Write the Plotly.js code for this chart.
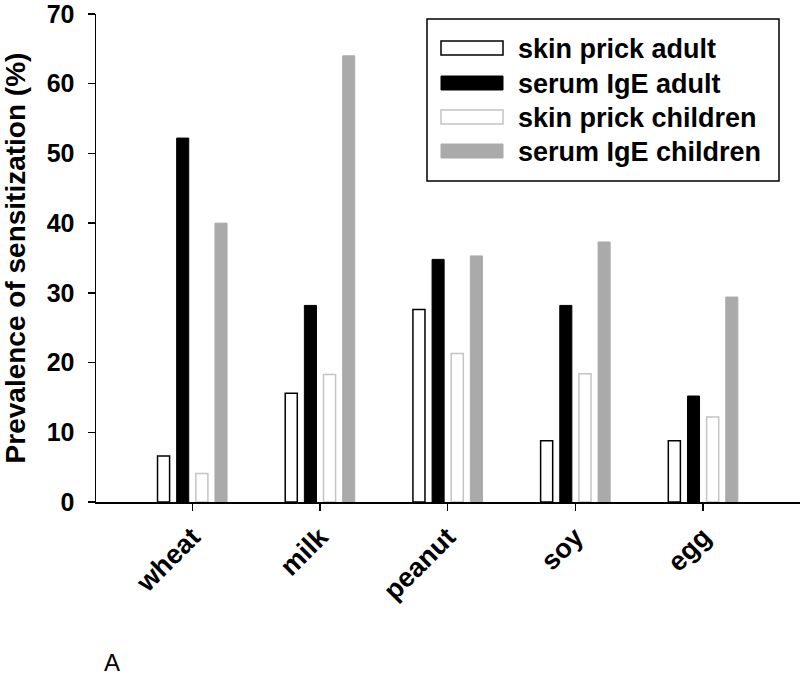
<!DOCTYPE html>
<html>
<head>
<meta charset="utf-8">
<script src="https://cdn.plot.ly/plotly-3.0.1.min.js"></script>
<style>html,body{margin:0;padding:0;background:#fff;}#chart{width:800px;height:678px;}</style>
</head>
<body>
<div id="chart"></div>
<script>
// ---- data ----
const categories = ['wheat', 'milk', 'peanut', 'soy', 'egg'];
const seriesNames = ['skin prick adult', 'serum IgE adult', 'skin prick children', 'serum IgE children'];
const skinPrickAdult = [6.6, 15.6, 27.6, 8.8, 8.8];
const serumIgEAdult = [52.2, 28.2, 34.8, 28.2, 15.2];
const skinPrickChildren = [4.1, 18.3, 21.3, 18.4, 12.2];
const serumIgEChildren = [40.0, 64.0, 35.3, 37.3, 29.4];
const yTickValues = [0, 10, 20, 30, 40, 50, 60, 70];

// ---- styles ----
const W = 800, H = 678;
const M = {l: 96, r: 0, t: 14, b: 176};
const FONT = '"Liberation Sans", Arial, Helvetica, sans-serif';
const styles = [
  {fill: '#ffffff', line: '#000000', lw: 1.5},
  {fill: '#000000', line: '#000000', lw: 1},
  {fill: '#ffffff', line: '#c4c4c4', lw: 1.5},
  {fill: '#aaaaaa', line: '#aaaaaa', lw: 1}
];
const seriesValues = [skinPrickAdult, serumIgEAdult, skinPrickChildren, serumIgEChildren];

const traces = seriesValues.map((vals, i) => ({
  type: 'bar',
  name: seriesNames[i],
  x: categories,
  y: vals,
  marker: {color: styles[i].fill, line: {color: styles[i].line, width: styles[i].lw}},
  showlegend: false,
  hoverinfo: 'x+y+name'
}));

// pixel -> paper helpers for the hand-drawn legend
const pw = W - M.l - M.r, ph = H - M.t - M.b;
const px = x => (x - M.l) / pw;
const py = y => (H - M.b - y) / ph;

const shapes = [{
  type: 'rect', xref: 'paper', yref: 'paper',
  x0: px(427), x1: px(779), y0: py(181), y1: py(19),
  line: {color: '#000', width: 1.5}, fillcolor: 'rgba(0,0,0,0)'
}];
const annotations = [];
const rowCenters = [48, 83, 117, 151];
seriesNames.forEach((name, i) => {
  shapes.push({
    type: 'rect', xref: 'paper', yref: 'paper',
    x0: px(441), x1: px(503), y0: py(rowCenters[i] + 7), y1: py(rowCenters[i] - 7),
    fillcolor: styles[i].fill, line: {color: styles[i].line, width: styles[i].lw}
  });
  annotations.push({
    xref: 'paper', yref: 'paper', x: px(516), y: py(rowCenters[i] + 1),
    xanchor: 'left', yanchor: 'middle', showarrow: false, text: name,
    font: {family: FONT, size: 27, color: '#000', weight: 'bold'}
  });
});
annotations.push({
  xref: 'paper', yref: 'paper', x: px(102), y: py(678),
  xanchor: 'left', yanchor: 'bottom', showarrow: false, text: 'A',
  font: {family: FONT, size: 24, color: '#000'}
});

const layout = {
  width: W, height: H,
  margin: M,
  paper_bgcolor: '#fff', plot_bgcolor: '#fff',
  barmode: 'group', bargap: 0.4, bargroupgap: 0.37,
  font: {family: FONT, color: '#000'},
  xaxis: {
    type: 'category',
    range: [-0.754, 4.759],
    showline: true, linecolor: '#000', linewidth: 1.5,
    ticks: 'outside', ticklen: 7, tickwidth: 1.5, tickcolor: '#000',
    tickangle: -45, ticklabelstandoff: 0,
    tickfont: {family: FONT, size: 27, color: '#000', weight: 'bold'},
    showgrid: false, zeroline: false, fixedrange: true
  },
  yaxis: {
    range: [0, 70],
    tickvals: yTickValues,
    showline: true, linecolor: '#000', linewidth: 1.5,
    ticks: 'outside', ticklen: 7, tickwidth: 1.5, tickcolor: '#000',
    ticklabeloverflow: 'allow', ticklabelstandoff: 8,
    tickfont: {family: FONT, size: 25, color: '#000', weight: 'bold'},
    showgrid: false, zeroline: false, fixedrange: true,
    title: {text: 'Prevalence of sensitization (%)', standoff: 16,
            font: {family: FONT, size: 28, color: '#000', weight: 'bold'}}
  },
  shapes: shapes,
  annotations: annotations
};

Plotly.newPlot('chart', traces, layout, {displayModeBar: false, staticPlot: true});
</script>
</body>
</html>
